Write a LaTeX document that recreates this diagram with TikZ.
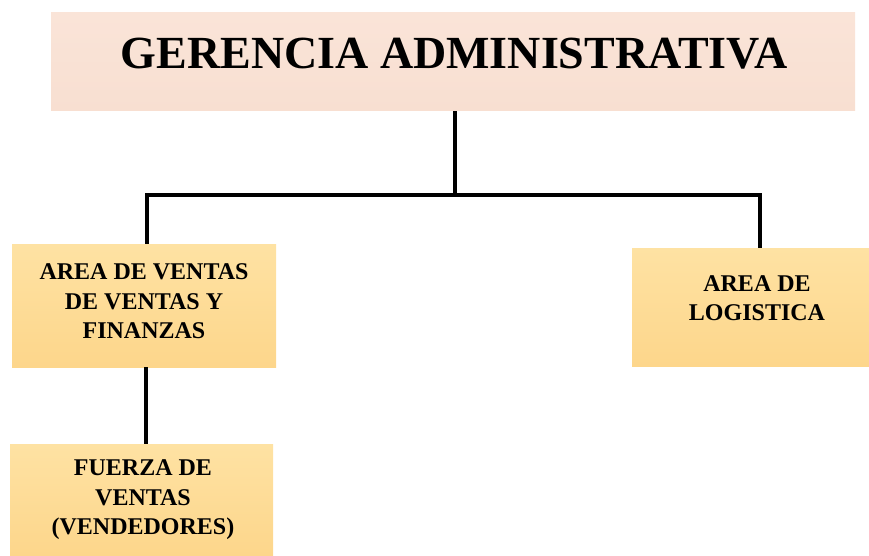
\documentclass[tikz,border=0pt]{standalone}
\usepackage{fontspec}
\setmainfont{Liberation Serif}
\definecolor{peach}{HTML}{FAE4D8}
\definecolor{peachdark}{HTML}{F8DFD1}
\definecolor{goldtop}{HTML}{FEE2A3}
\definecolor{goldbot}{HTML}{FDD68B}
\tikzset{
  titlebox/.style={rectangle, inner sep=0pt, top color=peach, bottom color=peachdark, draw=none},
  goldbox/.style={rectangle, inner sep=0pt, top color=goldtop, bottom color=goldbot, draw=none},
  boxtext/.style={font=\bfseries\fontsize{24}{29.5}\selectfont, align=center, inner sep=0pt},
  link/.style={line width=3.4pt, black}
}
\begin{document}
\begin{tikzpicture}[x=1pt,y=-1pt]
\useasboundingbox (0,0) rectangle (869,556);
% boxes
\node[titlebox, minimum width=804pt, minimum height=98pt] (ger) at (453,62) {};
\node[font=\bfseries\fontsize{46}{50}\selectfont, inner sep=0pt] (gert) at (454,54) {GERENCIA ADMINISTRATIVA};
\node[goldbox, minimum width=264pt, minimum height=123pt] (ven) at (144,305.5) {};
\node[boxtext] (vent) at (144,301.5) {AREA DE VENTAS\\DE VENTAS Y\\FINANZAS};
\node[goldbox, minimum width=237pt, minimum height=118pt] (log) at (750.5,307) {};
\node[boxtext] (logt) at (757,298) {AREA DE\\LOGISTICA};
\node[goldbox, minimum width=263pt, minimum height=112pt] (fue) at (141.5,500) {};
\node[boxtext] (fuet) at (143,500) {FUERZA DE\\VENTAS\\(VENDEDORES)};
% connectors
\coordinate (jc) at (455,195);
\coordinate (jl) at (147,195);
\coordinate (jr) at (760,195);
\draw[link] (ger.south -| jc) -- (jc);
\draw[link] (ven.north -| jl) -- (jl) -- (jr) -- (log.north -| jr);
\draw[link] (ven.south -| 146,0) -- (fue.north -| 146,0);
\end{tikzpicture}
\end{document}
